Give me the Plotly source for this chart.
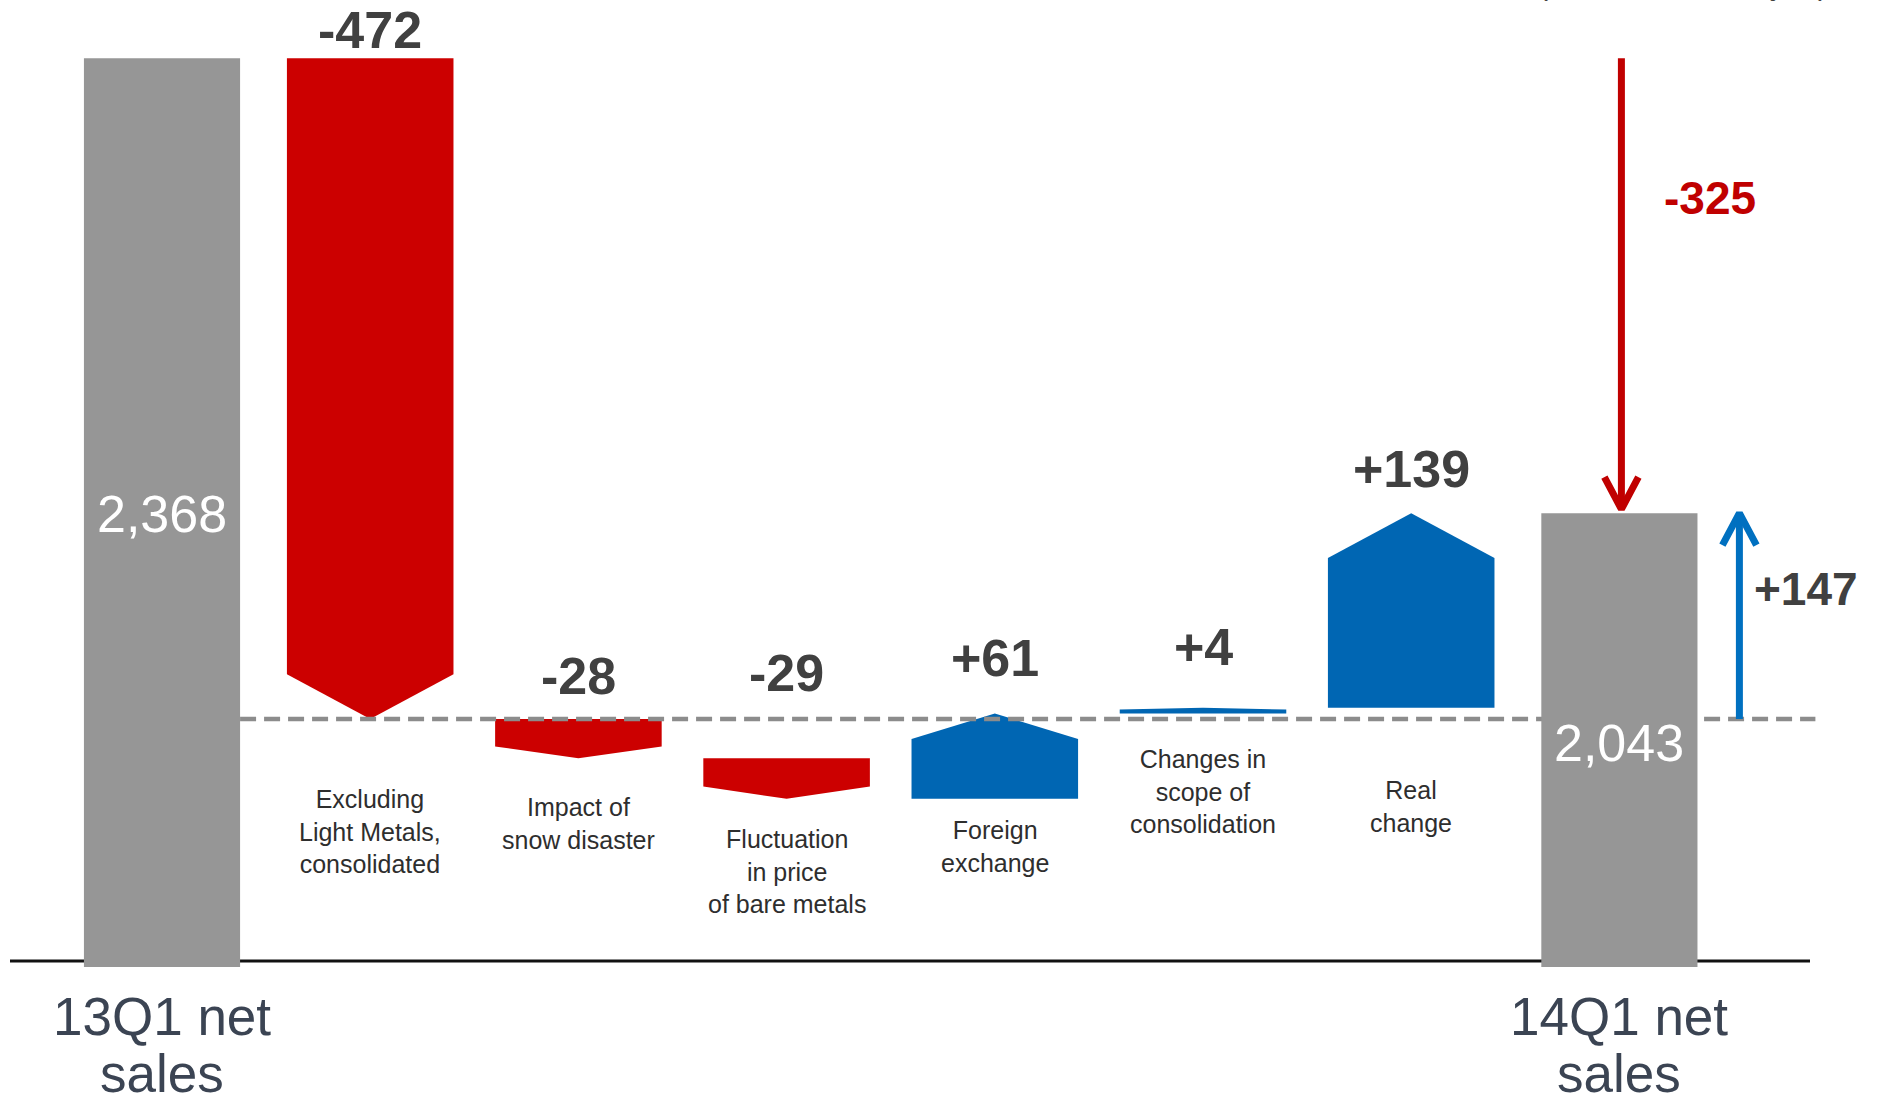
import plotly.graph_objects as go

# ---------------- data ----------------
total_names = [["13Q1 net", "sales"], ["14Q1 net", "sales"]]
total_values = [2368, 2043]
total_texts = ["2,368", "2,043"]

step_names = [
    "Excluding<br>Light Metals,<br>consolidated",
    "Impact of<br>snow disaster",
    "Fluctuation<br>in price<br>of bare metals",
    "Foreign<br>exchange",
    "Changes in<br>scope of<br>consolidation",
    "Real<br>change",
]
step_values = [-472, -28, -29, 61, 4, 139]
step_texts = ["-472", "-28", "-29", "+61", "+4", "+139"]

overall_change = -325
overall_text = "-325"
underlying_change = 147
underlying_text = "+147"
unit_text = "(Unit: 100 million yen)"

# ---------------- layout / style constants ----------------
W, H = 1885, 1105
PX_PER_X = 208.2          # pixels per category step
X0_PX = 162.0             # pixel of first category centre
PX_PER_Y = 1.4            # pixels per value unit
REF_PX = 719              # pixel row of the dashed reference line

RED, BLUE, GREY = "#CC0000", "#0066B3", "#969696"
ARROW_RED, ARROW_BLUE = "#C00000", "#0070C0"
DARK = "#404040"
FONT = "Arial, Liberation Sans, sans-serif"

TOTAL_W = 0.75
STEP_W = 0.80
TIP_FRAC, TIP_MAX = 0.3, 32

ref_val = total_values[0] + step_values[0]


def px_to_y(p):
    return ref_val + (REF_PX - p) / PX_PER_Y


def px_to_dx(p):
    return p / PX_PER_X


y_range = [px_to_y(H), px_to_y(0)]
x_range = [-X0_PX / PX_PER_X, (W - X0_PX) / PX_PER_X]
bar_base = px_to_y(967)        # broken-axis baseline of the total bars
axis_y = px_to_y(961)

fig = go.Figure()

# baseline (axis) line
fig.add_trace(go.Scatter(
    x=[px_to_dx(10 - X0_PX), px_to_dx(1810 - X0_PX)], y=[axis_y, axis_y],
    mode="lines", line=dict(color="#111111", width=3), hoverinfo="skip"))

# step arrows
level = total_values[0]
step_tops = []
for i, v in enumerate(step_values):
    c = i + 1
    s, e = level, level + v
    w = STEP_W / 2
    t = min(TIP_FRAC * abs(v), TIP_MAX)
    xs = [c - w, c + w, c + w, c, c - w, c - w]
    if v < 0:
        ys = [s, s, e + t, e, e + t, s]
        col = RED
    else:
        ys = [s, s, e - t, e, e - t, s]
        col = BLUE
    fig.add_trace(go.Scatter(x=xs, y=ys, mode="lines", fill="toself",
                             fillcolor=col, line=dict(width=0, color=col),
                             hoverinfo="skip"))
    step_tops.append(max(s, e))
    level = e

# dashed reference line
fig.add_trace(go.Scatter(
    x=[TOTAL_W / 2, 7 + px_to_dx(196)], y=[ref_val, ref_val], mode="lines",
    line=dict(color="#8C8C8C", width=4.5, dash="16px,8px"), hoverinfo="skip"))

# total bars
for idx, val in zip([0, 7], total_values):
    w = TOTAL_W / 2
    fig.add_trace(go.Scatter(
        x=[idx - w, idx + w, idx + w, idx - w, idx - w],
        y=[bar_base, bar_base, val, val, bar_base],
        mode="lines", fill="toself", fillcolor=GREY,
        line=dict(width=0, color=GREY), hoverinfo="skip"))

# arrows
ARM_DX = px_to_dx(17)
ARM_DY = 32 / PX_PER_Y


def add_arrow(x, y0, y1, color):
    fig.add_trace(go.Scatter(x=[x, x], y=[y0, y1], mode="lines",
                             line=dict(color=color, width=7), hoverinfo="skip"))
    d = ARM_DY if y1 < y0 else -ARM_DY
    fig.add_trace(go.Scatter(x=[x - ARM_DX, x, x + ARM_DX],
                             y=[y1 + d, y1, y1 + d], mode="lines",
                             line=dict(color=color, width=7), hoverinfo="skip"))


red_x = 7 + px_to_dx(2)
red_end = total_values[0] + overall_change
add_arrow(red_x, total_values[0], red_end + 4 / PX_PER_Y, ARROW_RED)

blue_x = 7 + px_to_dx(120)
add_arrow(blue_x, ref_val, ref_val + underlying_change, ARROW_BLUE)

annotations = []

# step value labels
VAL_SHIFT = [28, 43, 85, 55, 61, 44]
for i, (txt, top) in enumerate(zip(step_texts, step_tops)):
    annotations.append(dict(
        x=i + 1, y=top, yshift=VAL_SHIFT[i], text=f"<b>{txt}</b>",
        showarrow=False, xanchor="center", yanchor="middle",
        font=dict(family=FONT, size=52, color=DARK)))

# step category labels
CAT_Y_PX = [831, 823.5, 871, 846.5, 791.5, 806.5]
for i, name in enumerate(step_names):
    annotations.append(dict(
        x=i + 1, xref="x", y=1 - CAT_Y_PX[i] / H, yref="paper", text=name,
        showarrow=False, xanchor="center", yanchor="middle",
        font=dict(family=FONT, size=25, color="#2E2E2E")))

# total value labels (inside bars)
TOTAL_TXT_PX = [514, 743]
for idx, txt, p in zip([0, 7], total_texts, TOTAL_TXT_PX):
    annotations.append(dict(
        x=idx, y=1 - p / H, yref="paper", text=txt, showarrow=False,
        xanchor="center", yanchor="middle",
        font=dict(family=FONT, size=52, color="white")))

# total category labels
for idx, lines in zip([0, 7], total_names):
    for ln, p in zip(lines, [1016, 1073]):
        annotations.append(dict(
            x=idx, y=1 - p / H, yref="paper", text=ln, showarrow=False,
            xanchor="center", yanchor="middle",
            font=dict(family=FONT, size=53, color="#3B4453")))

# summary labels
annotations.append(dict(
    x=red_x + px_to_dx(89), y=px_to_y(198), text=f"<b>{overall_text}</b>",
    showarrow=False, xanchor="center", yanchor="middle",
    font=dict(family=FONT, size=46, color=ARROW_RED)))
annotations.append(dict(
    x=blue_x + px_to_dx(67), y=px_to_y(589), text=f"<b>{underlying_text}</b>",
    showarrow=False, xanchor="center", yanchor="middle",
    font=dict(family=FONT, size=46, color=DARK)))

# unit note (mostly above the visible area, as in the reference)
annotations.append(dict(
    x=1830 / W, xref="paper", y=1 - 3.4 / H, yref="paper", text=unit_text,
    showarrow=False, xanchor="right", yanchor="bottom",
    font=dict(family=FONT, size=30, color=DARK)))

fig.update_layout(
    width=W, height=H, margin=dict(l=0, r=0, t=0, b=0),
    paper_bgcolor="white", plot_bgcolor="white", showlegend=False,
    xaxis=dict(range=x_range, visible=False, fixedrange=True),
    yaxis=dict(range=y_range, visible=False, fixedrange=True),
    annotations=annotations,
)

fig.write_html("out.html")
